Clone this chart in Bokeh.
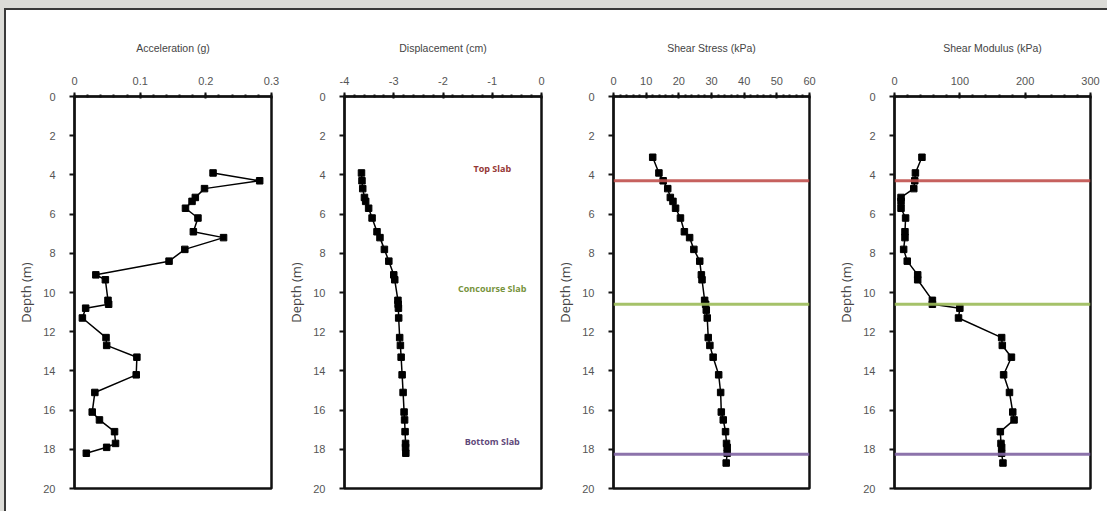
from bokeh.plotting import figure
from bokeh.layouts import row, column
from bokeh.models import Range1d, FixedTicker, Span, PrintfTickFormatter
from bokeh.core.properties import value
from bokeh.embed import file_html
from bokeh.resources import INLINE

# ---------------- data ----------------
depth_acc = [3.9, 4.3, 4.7, 5.15, 5.35, 5.7, 6.2, 6.9, 7.2, 7.8, 8.4, 9.1, 9.35,
             10.4, 10.6, 10.8, 11.3, 12.3, 12.7, 13.3, 14.2, 15.1, 16.1, 16.5,
             17.1, 17.7, 17.9, 18.2]
acceleration = [0.211, 0.282, 0.198, 0.184, 0.179, 0.169, 0.188, 0.181, 0.227,
                0.168, 0.144, 0.0325, 0.047, 0.051, 0.052, 0.017, 0.012, 0.048,
                0.049, 0.095, 0.094, 0.031, 0.027, 0.038, 0.061, 0.0625, 0.049,
                0.018]

depth_disp = [3.9, 4.3, 4.7, 5.15, 5.35, 5.7, 6.2, 6.9, 7.2, 7.8, 8.4, 9.1, 9.35,
              10.4, 10.6, 10.8, 11.3, 12.3, 12.7, 13.3, 14.2, 15.1, 16.1, 16.5,
              17.1, 17.7, 17.9, 18.2]
displacement = [-3.655, -3.645, -3.63, -3.595, -3.57, -3.51, -3.44, -3.34, -3.28,
                -3.19, -3.10, -3.00, -2.98, -2.915, -2.91, -2.905, -2.90, -2.88,
                -2.865, -2.85, -2.83, -2.81, -2.79, -2.78, -2.77, -2.76, -2.76,
                -2.755]

depth_shear = [3.1, 3.9, 4.3, 4.7, 5.15, 5.35, 5.7, 6.2, 6.9, 7.2, 7.8, 8.4, 9.1,
               9.35, 10.4, 10.6, 10.9, 11.3, 12.3, 12.7, 13.3, 14.2, 15.1, 16.1,
               16.5, 17.1, 17.7, 17.9, 18.2, 18.7]
shear_stress = [12.0, 13.9, 15.2, 16.6, 17.4, 18.2, 19.0, 20.5, 21.7, 23.3, 24.6,
                26.4, 26.9, 27.1, 27.9, 28.2, 28.4, 28.7, 29.0, 29.5, 30.5, 32.2,
                32.8, 33.0, 33.6, 34.3, 34.6, 34.8, 34.8, 34.5]

depth_mod = [3.1, 3.9, 4.3, 4.7, 5.15, 5.35, 5.7, 6.2, 6.9, 7.2, 7.8, 8.4, 9.1,
             9.35, 10.4, 10.6, 10.8, 11.3, 12.3, 12.7, 13.3, 14.2, 15.1, 16.1,
             16.5, 17.1, 17.7, 17.9, 18.2, 18.7]
shear_modulus = [42, 32, 31, 29.5, 10, 10, 10, 17, 16, 16, 14, 19.5, 35.5, 35.5,
                 58, 58, 100, 98, 164, 165, 179, 167, 176, 181, 183, 162, 163,
                 164, 164, 166]

slab_names = ["Top Slab", "Concourse Slab", "Bottom Slab"]
slab_depths = [4.3, 10.6, 18.25]
slab_colors = ["#c0504d", "#9bbb59", "#8064a2"]
slab_text_colors = ["#953735", "#77933c", "#5f497a"]
slab_label_depths = [3.67, 9.81, 17.58]

y_ticks = [0, 2, 4, 6, 8, 10, 12, 14, 16, 18, 20]

TICK_FONT = "Liberation Sans"
FH = 392
MT = 86
MB = 23


def make_fig(title, xr, majors, minor_step, bl, fw, br, fmt=None):
    p = figure(width=bl + fw + br, height=MT + FH + MB,
               x_range=Range1d(*xr), y_range=Range1d(20, 0),
               x_axis_location="above", output_backend="svg",
               toolbar_location=None, tools="",
               min_border_left=bl, min_border_right=br,
               min_border_top=MT, min_border_bottom=MB)
    p.xgrid.visible = False
    p.ygrid.visible = False
    p.outline_line_color = "#111111"
    p.outline_line_width = 2.5
    p.background_fill_color = "white"
    p.border_fill_color = "white"

    n = int(round((xr[1] - xr[0]) / minor_step))
    minors = [xr[0] + i * minor_step for i in range(n + 1)]
    xa = p.xaxis[0]
    xa.ticker = FixedTicker(ticks=majors, minor_ticks=minors)
    if fmt is not None:
        xa.formatter = PrintfTickFormatter(format=fmt)
    xa.axis_label = title
    xa.axis_label_text_font = TICK_FONT
    xa.axis_label_text_font_style = "normal"
    xa.axis_label_text_font_size = "10.5px"
    xa.axis_label_text_color = "#444444"
    xa.axis_label_standoff = 20
    xa.major_label_text_font = TICK_FONT
    xa.major_label_text_font_size = "11px"
    xa.major_label_text_color = "#555555"
    xa.major_label_standoff = 8
    xa.axis_line_color = "#111111"
    xa.axis_line_width = 2
    xa.major_tick_out = 4
    xa.major_tick_in = 2
    xa.major_tick_line_width = 2
    xa.minor_tick_out = 2
    xa.minor_tick_in = 1
    xa.minor_tick_line_width = 2
    xa.major_tick_line_color = "#111111"
    xa.minor_tick_line_color = "#111111"

    ya = p.yaxis[0]
    ya.ticker = FixedTicker(ticks=y_ticks, minor_ticks=[])
    ya.axis_label = "Depth (m)"
    ya.axis_label_text_font = "Open Sans"
    ya.axis_label_text_font_style = "normal"
    ya.axis_label_text_font_size = "13px"
    ya.axis_label_text_color = "#444444"
    ya.axis_label_standoff = 5
    ya.major_label_text_font = TICK_FONT
    ya.major_label_text_font_size = "11px"
    ya.major_label_text_color = "#555555"
    ya.major_label_standoff = 14
    ya.axis_line_color = "#111111"
    ya.axis_line_width = 2
    ya.major_tick_out = 5
    ya.major_tick_in = 0
    ya.major_tick_line_width = 2
    ya.major_tick_line_color = "#111111"
    return p


def add_series(p, x, y):
    p.line(x, y, line_color="black", line_width=1.5)
    p.scatter(x, y, marker="square", size=6.5, fill_color="black",
              line_color="black")


def add_slab_lines(p):
    for d, c in zip(slab_depths, slab_colors):
        p.add_layout(Span(location=d, dimension="width", line_color=c,
                          line_width=3, line_alpha=0.9))


p1 = make_fig("Acceleration (g)", (0, 0.3), [0, 0.1, 0.2, 0.3], 0.02, 68, 197, 10)
add_series(p1, acceleration, depth_acc)

p2 = make_fig("Displacement (cm)", (-4, 0), [-4, -3, -2, -1, 0], 0.2, 63, 197, 10,
              fmt="%d")
add_series(p2, displacement, depth_disp)
p2.text(x=[-1.0, -1.0, -1.0], y=slab_label_depths, text=slab_names,
        text_color=slab_text_colors, text_font=value("Open Sans"),
        text_font_style="bold", text_font_size="9px",
        text_align="center", text_baseline="middle")

p3 = make_fig("Shear Stress (kPa)", (0, 60), [0, 10, 20, 30, 40, 50, 60], 2, 62, 196, 10)
add_series(p3, shear_stress, depth_shear)
add_slab_lines(p3)

p4 = make_fig("Shear Modulus (kPa)", (0, 300), [0, 100, 200, 300], 20, 75, 196, 17)
add_series(p4, shear_modulus, depth_mod)
add_slab_lines(p4)

inner = row(p1, p2, p3, p4, spacing=0,
            styles={"border-top": "2px solid #3a3a3a",
                    "border-left": "2px solid #3a3a3a",
                    "background-color": "white"})
layout = column(inner, styles={"background-color": "#dcdcd8",
                               "padding-left": "4px", "padding-top": "8px"})

open("out.html", "w").write(file_html(layout, INLINE))
